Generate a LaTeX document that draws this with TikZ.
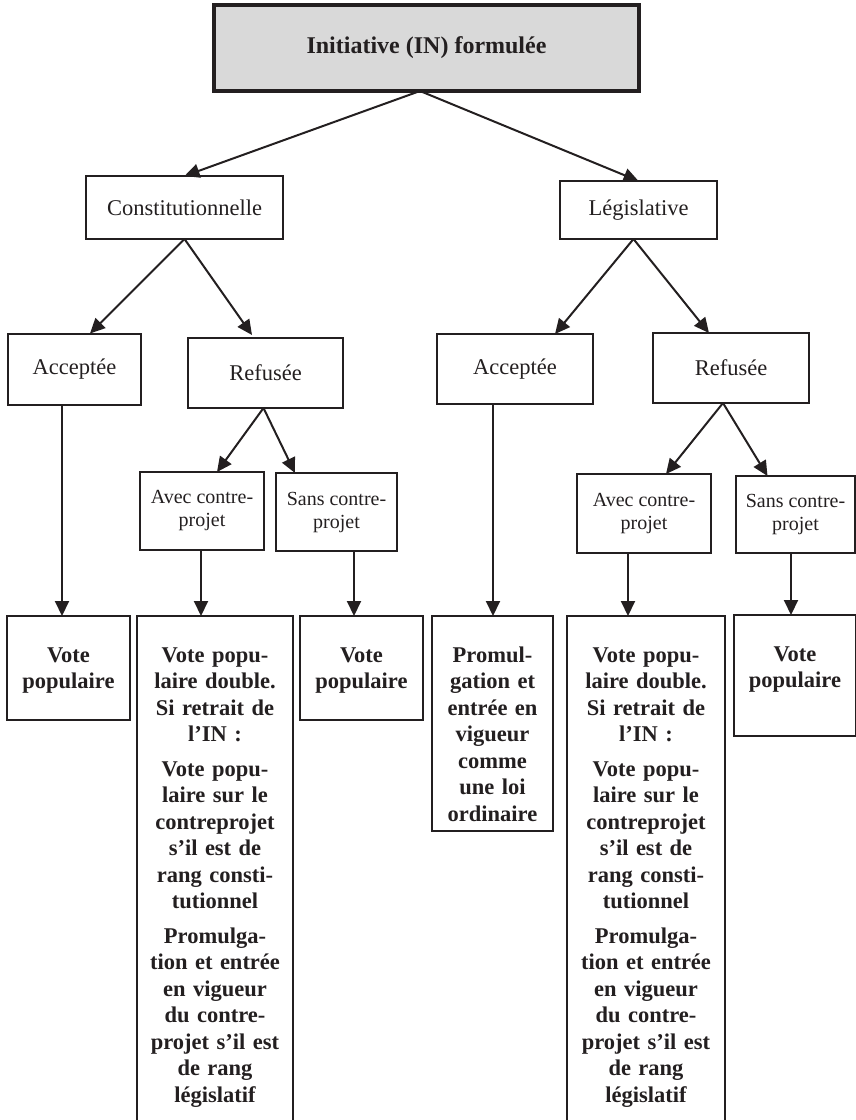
\documentclass[tikz,border=0pt]{standalone}
\usepackage{fontspec}
\setmainfont{Liberation Serif}
\usetikzlibrary{arrows.meta}
\definecolor{ink}{RGB}{35,31,32}
\definecolor{titlefill}{RGB}{217,217,217}

\begin{document}
\begin{tikzpicture}[x=1pt,y=-1pt,
  box/.style={draw=ink, line width=2pt, inner sep=0pt, outer sep=0pt, text=ink, align=center},
  lbl/.style={box, font=\fontsize{22.5}{26}\selectfont},
  smallbox/.style={box, font=\fontsize{20}{23}\selectfont},
  res/.style={box, anchor=north, font=\bfseries\fontsize{22.5}{26.5}\selectfont, text height=46pt},
  arr/.style={draw=ink, line width=2pt, -{Triangle[length=15pt,width=14pt]}}
]
\useasboundingbox (0,0) rectangle (856,1120);

% root
\node[box, line width=4pt, fill=titlefill, minimum width=425pt, minimum height=86pt,
      font=\bfseries\fontsize{24}{28}\selectfont] (top) at (426.5,48) {Initiative (IN) formulée};

% first level
\node[lbl, minimum width=197pt, minimum height=63pt] (con) at (184.5,207.5) {Constitutionnelle};
\node[lbl, minimum width=157pt, minimum height=58pt] (leg) at (638.5,210) {Législative};

% second level
\node[lbl, minimum width=133pt, minimum height=71pt] (acc1) at (74.5,369) {Acceptée};
\node[lbl, minimum width=155pt, minimum height=70pt] (ref1) at (265.5,373) {Refusée};
\node[lbl, minimum width=156pt, minimum height=70pt] (acc2) at (515,369) {Acceptée};
\node[lbl, minimum width=156pt, minimum height=70pt] (ref2) at (731,368) {Refusée};

% third level
\node[smallbox, minimum width=124pt, minimum height=78pt] (avec1) at (202,511) {Avec contre-\\projet};
\node[smallbox, minimum width=121pt, minimum height=78pt] (sans1) at (336.5,512) {Sans contre-\\projet};
\node[smallbox, minimum width=134pt, minimum height=79pt] (avec2) at (644,513.5) {Avec contre-\\projet};
\node[smallbox, minimum width=119pt, minimum height=77pt] (sans2) at (795.5,514.5) {Sans contre-\\projet};

% outcomes
\node[res, text width=123pt, text depth=58pt] (vote1) at (68.5,616) {Vote\\populaire};
\node[res, text width=156pt, text depth=462pt] (big1) at (215,616)
  {Vote popu-\\laire double.\\Si retrait de\\l’IN :\\[8pt]
   Vote popu-\\laire sur le\\contreprojet\\s’il est de\\rang consti-\\tutionnel\\[8pt]
   Promulga-\\tion et entrée\\en vigueur\\du contre-\\projet s’il est\\de rang\\législatif};
\node[res, text width=123pt, text depth=58pt] (vote2) at (361.5,616) {Vote\\populaire};
\node[res, text width=121pt, text depth=169pt] (prom) at (492.5,616)
  {Promul-\\gation et\\entrée en\\vigueur\\comme\\une loi\\ordinaire};
\node[res, text width=158pt, text depth=462pt] (big2) at (646,616)
  {Vote popu-\\laire double.\\Si retrait de\\l’IN :\\[8pt]
   Vote popu-\\laire sur le\\contreprojet\\s’il est de\\rang consti-\\tutionnel\\[8pt]
   Promulga-\\tion et entrée\\en vigueur\\du contre-\\projet s’il est\\de rang\\législatif};
\node[res, text width=122pt, text depth=75pt] (vote3) at (795,615) {Vote\\populaire};

% connectors
\draw[arr] ([xshift=-6.5pt]top.south) -- (con.north);
\draw[arr] ([xshift=-6.5pt]top.south) -- (leg.north);

\draw[arr] (con.south) -- ([xshift=15.5pt]acc1.north);
\draw[arr] (con.south) -- ([xshift=-13.5pt,yshift=3pt]ref1.north);
\draw[arr] ([xshift=-5pt]leg.south) -- ([xshift=40pt]acc2.north);
\draw[arr] ([xshift=-5pt]leg.south) -- ([xshift=-22pt]ref2.north);

\draw[arr] ([xshift=-2pt]ref1.south) -- ([xshift=15pt]avec1.north);
\draw[arr] ([xshift=-2pt]ref1.south) -- ([xshift=-41.5pt]sans1.north);
\draw[arr] ([xshift=-8pt]ref2.south) -- ([xshift=22pt]avec2.north);
\draw[arr] ([xshift=-8pt]ref2.south) -- ([xshift=-28pt]sans2.north);

\draw[arr] ([xshift=-12.5pt]acc1.south) -- ([xshift=-6.5pt]vote1.north);
\draw[arr] ([xshift=-1pt]avec1.south) -- ([xshift=-14pt]big1.north);
\draw[arr] ([xshift=17.5pt]sans1.south) -- ([xshift=-7.5pt]vote2.north);
\draw[arr] ([xshift=-22pt]acc2.south) -- ([xshift=0.5pt]prom.north);
\draw[arr] ([xshift=-16pt]avec2.south) -- ([xshift=-18pt]big2.north);
\draw[arr] ([xshift=-4.5pt]sans2.south) -- ([xshift=-4pt]vote3.north);
\end{tikzpicture}
\end{document}
